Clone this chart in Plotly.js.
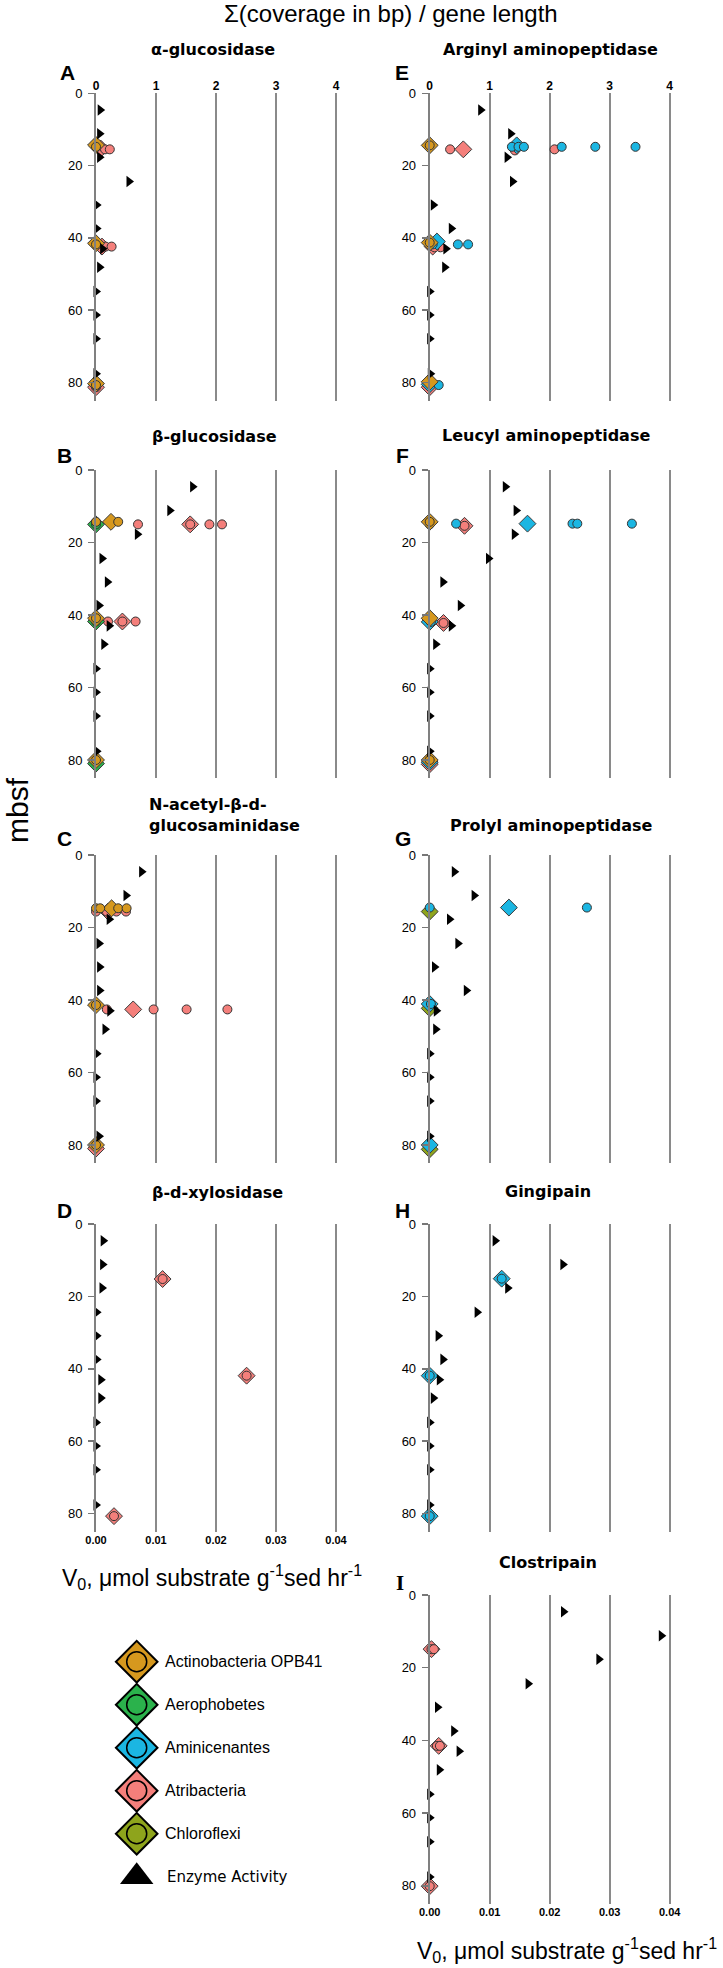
<!DOCTYPE html>
<html><head><meta charset="utf-8">
<script src="https://cdn.plot.ly/plotly-3.0.1.min.js"></script>
<style>body{margin:0;background:#fff}#chart{width:723px;height:1968px}</style>
</head><body><div id="chart"></div><script>
const W = 723, H = 1968;

// ---------- labels ----------
const taxa = ["Actinobacteria OPB41", "Aerophobetes", "Aminicenantes", "Atribacteria", "Chloroflexi"];
const taxonCodes = ["Act", "Aer", "Ami", "Atr", "Chl"];
const taxonColors = ["#D6981E", "#2BB24C", "#1BB6E2", "#F47F7B", "#8EA41C"];
const enzymeLabel = "Enzyme Activity";
const panelLetters = ["A", "B", "C", "D", "E", "F", "G", "H", "I"];
const panelTitles = ["α-glucosidase", "β-glucosidase", "N-acetyl-β-d-<br>glucosaminidase", "β-d-xylosidase",
  "Arginyl aminopeptidase", "Leucyl aminopeptidase", "Prolyl aminopeptidase", "Gingipain", "Clostripain"];
const coverageTitle = "Σ(coverage in bp) / gene length";
const depthTitle = "mbsf";
const activityTitle = "V<sub>0</sub>, μmol substrate g<sup>-1</sup>sed hr<sup>-1</sup>";
const depthTicks = [0, 20, 40, 60, 80];
const coverageTicks = [0, 1, 2, 3, 4];
const activityTicks = [0, 0.01, 0.02, 0.03, 0.04];

// ---------- enzyme activity (V0) ----------
const activityDepth = [4.6, 11.2, 17.7, 24.4, 30.9, 37.4, 43.0, 48.1, 54.8, 61.3, 67.9, 77.6];
const activityA = [0.0007, 0.0006, 0.0006, 0.0055, 0.0001, 0.0001, 0.0011, 0.0006, 0, 0, 0, 0];
const activityB = [0.0161, 0.0123, 0.0069, 0.0010, 0.0019, 0.0005, 0.0022, 0.0013, 0, 0, 0, 0.0001];
const activityC = [0.0076, 0.0050, 0.0022, 0.0005, 0.0006, 0.0006, 0.0023, 0.0015, 0.0001, 0, 0, 0.0005];
const activityD = [0.0012, 0.0011, 0.0010, 0.0001, 0.0001, 0.0001, 0.0008, 0.0008, 0, 0, 0, 0];
const activityE = [0.0085, 0.0135, 0.0129, 0.0138, 0.0006, 0.0036, 0.0027, 0.0025, 0, 0, 0, 0.0001];
const activityF = [0.0126, 0.0144, 0.0141, 0.0098, 0.0022, 0.0051, 0.0036, 0.0010, 0, 0, 0, 0];
const activityG = [0.0041, 0.0074, 0.0033, 0.0047, 0.0008, 0.0061, 0.0011, 0.0010, 0, 0, 0, 0];
const activityH = [0.0109, 0.0222, 0.0130, 0.0079, 0.0014, 0.0022, 0.0016, 0.0006, 0, 0, 0, 0];
const activityI = [0.0223, 0.0386, 0.0282, 0.0164, 0.0013, 0.0040, 0.0049, 0.0016, 0, 0, 0, 0];

// ---------- gene coverage: diamonds ----------
const diaTaxonA = ["Act", "Act", "Act", "Atr", "Atr", "Atr"];
const diaDepthA = [14.3, 41.5, 80.3, 15.3, 42.4, 81.3];
const diaCovA   = [0, 0, 0, 0.08, 0.10, 0];
const cirTaxonA = ["Act", "Act", "Act", "Atr", "Atr", "Atr", "Atr", "Atr"];
const cirDepthA = [14.8, 41.8, 80.7, 15.5, 15.5, 42.4, 42.4, 81.3];
const cirCovA   = [0, 0, 0, 0.15, 0.23, 0.16, 0.26, 0];

const diaTaxonB = ["Act", "Act", "Act", "Aer", "Aer", "Aer", "Atr", "Atr"];
const diaDepthB = [14.3, 40.9, 80.0, 15.0, 41.8, 81.0, 15.0, 41.8];
const diaCovB   = [0.25, 0, 0, 0, 0, 0, 1.57, 0.44];
const cirTaxonB = ["Act", "Act", "Act", "Act", "Aer", "Aer", "Atr", "Atr", "Atr", "Atr", "Atr", "Atr", "Atr"];
const cirDepthB = [14.3, 14.3, 40.9, 80.0, 15.0, 41.8, 15.0, 15.0, 15.0, 15.0, 41.8, 41.8, 41.8];
const cirCovB   = [0, 0.37, 0, 0, 0, 0, 0.70, 1.57, 1.89, 2.10, 0.20, 0.44, 0.66];

const diaTaxonC = ["Act", "Act", "Act", "Atr", "Atr", "Atr"];
const diaDepthC = [14.7, 41.4, 80.0, 15.6, 42.6, 81.0];
const diaCovC   = [0.26, 0, 0, 0.20, 0.62, 0];
const cirTaxonC = ["Act", "Act", "Act", "Act", "Act", "Act", "Atr", "Atr", "Atr", "Atr", "Atr", "Atr", "Atr", "Atr"];
const cirDepthC = [14.7, 14.7, 14.7, 14.7, 41.4, 80.0, 15.6, 15.6, 15.6, 15.6, 42.6, 42.6, 42.6, 42.6];
const cirCovC   = [0, 0.07, 0.37, 0.51, 0, 0, 0, 0.18, 0.34, 0.50, 0.18, 0.96, 1.51, 2.19];

const diaTaxonD = ["Atr", "Atr", "Atr"];
const diaDepthD = [15.2, 41.9, 80.7];
const diaCovD   = [1.11, 2.51, 0.30];
const cirTaxonD = ["Atr", "Atr", "Atr"];
const cirDepthD = [15.2, 41.9, 80.7];
const cirCovD   = [1.11, 2.51, 0.30];

const diaTaxonE = ["Act", "Act", "Act", "Ami", "Ami", "Ami", "Atr", "Atr", "Atr"];
const diaDepthE = [14.4, 41.3, 79.8, 14.4, 41.0, 80.5, 15.5, 42.4, 81.3];
const diaCovE   = [0, 0, 0, 1.45, 0.12, 0, 0.56, 0.05, 0];
const cirTaxonE = ["Act", "Act", "Ami", "Ami", "Ami", "Ami", "Ami", "Ami", "Ami", "Ami", "Ami", "Ami", "Ami", "Atr", "Atr", "Atr", "Atr", "Atr"];
const cirDepthE = [14.4, 41.3, 14.8, 14.8, 14.8, 14.8, 14.8, 14.8, 14.8, 41.8, 41.8, 41.8, 80.7, 15.5, 15.8, 15.5, 42.6, 42.6];
const cirCovE   = [0, 0, 0, 1.37, 1.48, 1.57, 2.20, 2.76, 3.43, 0.05, 0.47, 0.64, 0.15, 0.34, 1.42, 2.08, 0.18, 0.08];

const diaTaxonF = ["Act", "Act", "Act", "Ami", "Ami", "Ami", "Atr", "Atr", "Atr"];
const diaDepthF = [14.3, 40.9, 80.0, 14.8, 41.9, 80.6, 15.4, 42.2, 81.2];
const diaCovF   = [0, 0, 0, 1.63, 0, 0, 0.58, 0.23, 0];
const cirTaxonF = ["Act", "Act", "Ami", "Ami", "Ami", "Ami", "Ami", "Ami", "Atr", "Atr"];
const cirDepthF = [14.3, 80.0, 15.0, 14.8, 14.8, 14.8, 14.8, 41.9, 15.4, 42.2];
const cirCovF   = [0, 0, 0, 0.44, 2.38, 2.46, 3.37, 0.02, 0.58, 0.23];

const diaTaxonG = ["Ami", "Ami", "Ami", "Chl", "Chl", "Chl"];
const diaDepthG = [14.5, 41.1, 80.0, 15.6, 42.3, 81.2];
const diaCovG   = [1.32, 0, 0, 0, 0, 0];
const cirTaxonG = ["Ami", "Ami", "Ami"];
const cirDepthG = [14.5, 14.5, 41.1];
const cirCovG   = [0, 2.62, 0.02];

const diaTaxonH = ["Ami", "Ami", "Ami"];
const diaDepthH = [15.1, 41.9, 80.7];
const diaCovH   = [1.20, 0, 0];
const cirTaxonH = ["Ami", "Ami", "Ami"];
const cirDepthH = [15.1, 41.9, 80.7];
const cirCovH   = [1.20, 0, 0];

const diaTaxonI = ["Atr", "Atr", "Atr"];
const diaDepthI = [14.9, 41.5, 80.1];
const diaCovI   = [0.03, 0.15, 0];
const cirTaxonI = ["Atr", "Atr", "Atr", "Atr", "Atr"];
const cirDepthI = [14.9, 14.9, 41.5, 41.5, 80.1];
const cirCovI   = [0.03, 0.07, 0.12, 0.17, 0];

// ---------- assemble ----------
const panels = [
  {act: activityA, dT: diaTaxonA, dD: diaDepthA, dC: diaCovA, cT: cirTaxonA, cD: cirDepthA, cC: cirCovA},
  {act: activityB, dT: diaTaxonB, dD: diaDepthB, dC: diaCovB, cT: cirTaxonB, cD: cirDepthB, cC: cirCovB},
  {act: activityC, dT: diaTaxonC, dD: diaDepthC, dC: diaCovC, cT: cirTaxonC, cD: cirDepthC, cC: cirCovC},
  {act: activityD, dT: diaTaxonD, dD: diaDepthD, dC: diaCovD, cT: cirTaxonD, cD: cirDepthD, cC: cirCovD},
  {act: activityE, dT: diaTaxonE, dD: diaDepthE, dC: diaCovE, cT: cirTaxonE, cD: cirDepthE, cC: cirCovE},
  {act: activityF, dT: diaTaxonF, dD: diaDepthF, dC: diaCovF, cT: cirTaxonF, cD: cirDepthF, cC: cirCovF},
  {act: activityG, dT: diaTaxonG, dD: diaDepthG, dC: diaCovG, cT: cirTaxonG, cD: cirDepthG, cC: cirCovG},
  {act: activityH, dT: diaTaxonH, dD: diaDepthH, dC: diaCovH, cT: cirTaxonH, cD: cirDepthH, cC: cirCovH},
  {act: activityI, dT: diaTaxonI, dD: diaDepthI, dC: diaCovI, cT: cirTaxonI, cD: cirDepthI, cC: cirCovI}
];

// layout geometry (pixels)
const colX = [[96, 366], [429.7, 699.7]];
const rowY = [[93.3, 400.6], [470, 778.1], [855, 1163.1], [1224, 1531.7], [1595, 1904]];
const panelPos = [[0, 0], [0, 1], [0, 2], [0, 3], [1, 0], [1, 1], [1, 2], [1, 3], [1, 4]];
const fx = v => v / W;
const fy = v => 1 - v / H;
const ax = n => (n === 1 ? '' : String(n));

const SANS = "Liberation Sans, Arial, sans-serif";
const VERD = "DejaVu Sans, Verdana, sans-serif";
const GRID = "#8a8a8a";

const traces = [];
const layout = {
  width: W, height: H, margin: {l: 0, r: 0, t: 0, b: 0},
  paper_bgcolor: "#fff", plot_bgcolor: "rgba(0,0,0,0)",
  showlegend: false, annotations: [], font: {family: SANS, color: "#000"}
};

panels.forEach((P, i) => {
  const n = i + 1, na = i + 10;
  const [c, r] = panelPos[i];
  const xd = [fx(colX[c][0]), fx(colX[c][1])];
  const yd = [fy(rowY[r][1]), fy(rowY[r][0])];
  const showTop = (r === 0);
  const showBottom = (i === 3 || i === 8);

  layout['xaxis' + ax(n)] = {
    domain: xd, anchor: 'y' + ax(n), side: 'top', range: [0, 4.5],
    tickmode: 'array', tickvals: coverageTicks, ticktext: coverageTicks.map(String),
    showgrid: true, gridcolor: GRID, gridwidth: 2, zeroline: false, showline: false, ticks: '',
    showticklabels: showTop, tickfont: {family: SANS, size: 12, weight: 'bold', color: '#000'},
    fixedrange: true
  };
  layout['xaxis' + na] = {
    overlaying: 'x' + ax(n), anchor: 'y' + ax(n), side: 'bottom', range: [0, 0.045],
    tickmode: 'array', tickvals: activityTicks, tickformat: '.2f',
    showgrid: false, zeroline: false, showline: false, ticks: '',
    showticklabels: showBottom, tickfont: {family: SANS, size: 11, weight: 'bold', color: '#000'},
    fixedrange: true
  };
  layout['yaxis' + ax(n)] = {
    domain: yd, anchor: 'x' + ax(n), range: [85, 0],
    tickmode: 'array', tickvals: depthTicks, ticks: 'outside', ticklen: 6, tickwidth: 1.5, tickcolor: '#777',
    showline: true, linecolor: '#808080', linewidth: 2, layer: 'above traces',
    showgrid: false, zeroline: false, tickfont: {family: SANS, size: 13, color: '#000'},
    ticklabelstandoff: 3, fixedrange: true
  };

  for (let t = taxa.length - 1; t >= 0; t--) {
    const code = taxonCodes[t];
    const di = P.dT.map((v, k) => v === code ? k : -1).filter(k => k >= 0);
    const ci = P.cT.map((v, k) => v === code ? k : -1).filter(k => k >= 0);
    if (di.length) traces.push({
      type: 'scatter', mode: 'markers', name: taxa[t],
      x: di.map(k => P.dC[k]), y: di.map(k => P.dD[k]),
      xaxis: 'x' + ax(n), yaxis: 'y' + ax(n), cliponaxis: false, hoverinfo: 'skip',
      marker: {symbol: 'diamond', size: 13, color: taxonColors[t], line: {color: '#3a3a3a', width: 1}}
    });
    if (ci.length) traces.push({
      type: 'scatter', mode: 'markers', name: taxa[t],
      x: ci.map(k => P.cC[k]), y: ci.map(k => P.cD[k]),
      xaxis: 'x' + ax(n), yaxis: 'y' + ax(n), cliponaxis: false, hoverinfo: 'skip',
      marker: {symbol: 'circle', size: 9, color: taxonColors[t], line: {color: '#333', width: 1}}
    });
  }
  traces.push({
    type: 'scatter', mode: 'markers', name: enzymeLabel,
    x: P.act, y: activityDepth, xaxis: 'x' + na, yaxis: 'y' + ax(n), cliponaxis: false, hoverinfo: 'skip',
    marker: {symbol: 'triangle-right', size: 10, color: '#000', line: {width: 0}}
  });
});

// panel titles and letters
const titlePos = [[213, 49], [214, 436.7], [147, 815], [217.5, 1192], [550.5, 49], [546, 435], [551, 825], [547.5, 1191], [548, 1562]];
const letterPos = [[67, 72], [64.5, 455.5], [64.5, 838.5], [64.5, 1210], [402, 72], [402, 455.5], [403, 838.5], [402, 1210], [400, 1583]];
panelTitles.forEach((txt, i) => {
  const left = i === 2;
  layout.annotations.push({
    xref: 'paper', yref: 'paper', x: fx(titlePos[i][0]), y: fy(titlePos[i][1]),
    xanchor: left ? 'left' : 'center', yanchor: 'middle', align: left ? 'left' : 'center',
    text: '<b>' + txt + '</b>', showarrow: false,
    font: {family: VERD, size: 16, color: '#000'}
  });
  layout.annotations.push({
    xref: 'paper', yref: 'paper', x: fx(letterPos[i][0]), y: fy(letterPos[i][1]),
    xanchor: 'center', yanchor: 'middle', text: '<b>' + panelLetters[i] + '</b>', showarrow: false,
    font: {family: i === 8 ? "Liberation Serif, serif" : SANS, size: 21, color: '#000'}
  });
});

layout.annotations.push({xref: 'paper', yref: 'paper', x: fx(390.7), y: fy(14), xanchor: 'center', yanchor: 'middle',
  text: coverageTitle, showarrow: false, font: {family: SANS, size: 24, color: '#000'}});
layout.annotations.push({xref: 'paper', yref: 'paper', x: fx(17), y: fy(810), xanchor: 'center', yanchor: 'middle',
  text: depthTitle, textangle: -90, showarrow: false, font: {family: SANS, size: 30, color: '#000'}});
layout.annotations.push({xref: 'paper', yref: 'paper', x: fx(60), y: fy(1577), xanchor: 'left', yanchor: 'middle',
  text: activityTitle, showarrow: false, font: {family: SANS, size: 23, color: '#000'}});
layout.annotations.push({xref: 'paper', yref: 'paper', x: fx(719), y: fy(1950), xanchor: 'right', yanchor: 'middle',
  text: activityTitle, showarrow: false, font: {family: SANS, size: 23, color: '#000'}});

// ---------- legend (drawn as its own small subplot) ----------
const legendIndex = [0, 1, 2, 3, 4];
layout.xaxis19 = {domain: [fx(116.7), fx(156.7)], anchor: 'y10', range: [-1, 1], visible: false, fixedrange: true};
layout.yaxis10 = {domain: [fy(1898.2), fy(1640.2)], anchor: 'x19', range: [5.5, -0.5], visible: false, fixedrange: true};
traces.push({type: 'scatter', mode: 'markers', x: legendIndex.map(() => 0), y: legendIndex,
  xaxis: 'x19', yaxis: 'y10', cliponaxis: false, hoverinfo: 'skip',
  marker: {symbol: 'diamond', size: 32, color: taxonColors, line: {color: '#000', width: 2}}});
traces.push({type: 'scatter', mode: 'markers', x: legendIndex.map(() => 0), y: legendIndex,
  xaxis: 'x19', yaxis: 'y10', cliponaxis: false, hoverinfo: 'skip',
  marker: {symbol: 'circle-open', size: 20, color: '#000', line: {color: '#000', width: 1.5}}});
traces.push({type: 'scatter', mode: 'markers', x: [0], y: [5],
  xaxis: 'x19', yaxis: 'y10', cliponaxis: false, hoverinfo: 'skip',
  marker: {symbol: 'triangle-up', size: 29, color: '#000'}});
taxa.forEach((name, k) => {
  layout.annotations.push({xref: 'x19', yref: 'y10', x: 1, y: k, xanchor: 'left', yanchor: 'middle', xshift: 6,
    text: name, showarrow: false, font: {family: SANS, size: 16, color: '#000'}});
});
layout.annotations.push({xref: 'x19', yref: 'y10', x: 1, y: 5, xanchor: 'left', yanchor: 'middle', xshift: 8,
  text: enzymeLabel, showarrow: false, font: {family: VERD, size: 15, color: '#000'}});

Plotly.newPlot('chart', traces, layout, {staticPlot: true, displayModeBar: false});
</script></body></html>
